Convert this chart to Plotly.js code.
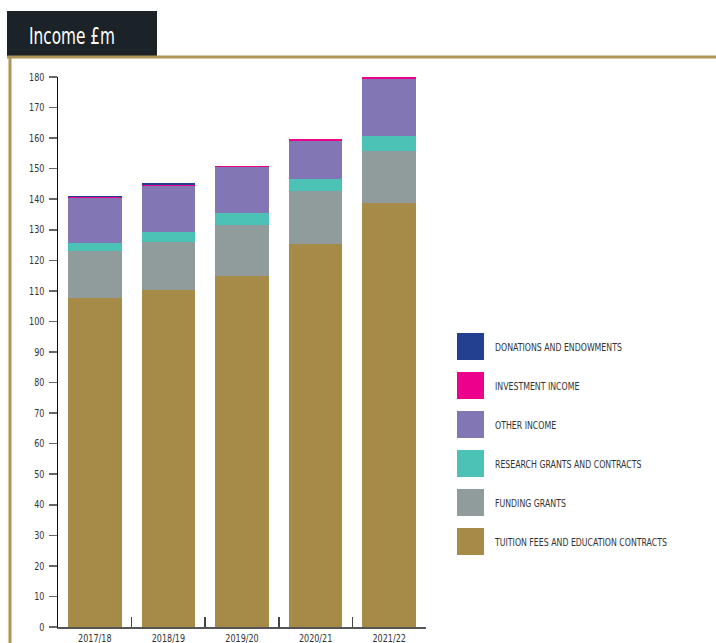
<!DOCTYPE html>
<html>
<head>
<meta charset="utf-8">
<script src="https://cdn.plot.ly/plotly-3.0.1.min.js"></script>
<style>html,body{margin:0;padding:0;background:#fff;}#chart{width:716px;height:643px;}</style>
</head>
<body>
<div id="chart"></div>
<script>
const years = ["2017/18", "2018/19", "2019/20", "2020/21", "2021/22"];
const tuition = [107.8, 110.3, 114.9, 125.4, 138.7];
const funding = [15.2, 15.7, 16.6, 17.2, 17.0];
const research = [2.6, 3.2, 3.9, 3.9, 4.9];
const other = [14.9, 15.2, 15.1, 12.5, 18.7];
const investment = [0.3, 0.3, 0.5, 0.6, 0.6];
const donations = [0.4, 0.5, 0, 0, 0];

const seriesNames = ["TUITION FEES AND EDUCATION CONTRACTS", "FUNDING GRANTS", "RESEARCH GRANTS AND CONTRACTS", "OTHER INCOME", "INVESTMENT INCOME", "DONATIONS AND ENDOWMENTS"];
const seriesValues = [tuition, funding, research, other, investment, donations];
const seriesColors = ["#a58a48", "#8f9c9b", "#4cc1b5", "#8376b5", "#ec008c", "#233f8f"];
const yTicks = [0,10,20,30,40,50,60,70,80,90,100,110,120,130,140,150,160,170,180];

const condensed = "'Liberation Sans Narrow', 'DejaVu Sans Condensed', 'Roboto Condensed', Arial, sans-serif";

const traces = seriesNames.map((n, i) => ({
  type: "bar", x: years, y: seriesValues[i], name: n,
  marker: {color: seriesColors[i], line: {width: 0}},
  showlegend: false, hoverinfo: "x+y+name"
}));

// Plot area geometry in pixels (for converting frame decorations to paper coords)
const L = 58, R = 290, T = 77, B = 16, W = 716, H = 643;
const pw = W - L - R, ph = H - T - B;
const px = v => (v - L) / pw;
const py = v => (H - B - v) / ph;

const shapes = [
  {type: "rect", xref: "paper", yref: "paper", x0: px(7), x1: px(157), y0: py(57), y1: py(11), fillcolor: "#1b2328", line: {width: 0}, layer: "below"},
  {type: "line", xref: "paper", yref: "paper", x0: px(7), x1: px(720), y0: py(57), y1: py(57), line: {color: "#ad9558", width: 3}},
  {type: "line", xref: "paper", yref: "paper", x0: px(10), x1: px(10), y0: py(56), y1: py(650), line: {color: "#ad9558", width: 3}}
];
const annotations = [];
// custom legend (top to bottom = reversed trace order)
const legTop = 333, legStep = 39, sw = 27;
for (let k = 0; k < seriesNames.length; k++) {
  const i = seriesNames.length - 1 - k;
  const yTop = legTop + k * legStep;
  shapes.push({type: "rect", xref: "paper", yref: "paper", x0: px(457), x1: px(457 + sw), y0: py(yTop + sw), y1: py(yTop), fillcolor: seriesColors[i], line: {width: 0}});
  annotations.push({xref: "paper", yref: "paper", x: px(493), y: py(yTop + sw / 2 + 1), xanchor: "left", yanchor: "middle", align: "left", text: seriesNames[i], showarrow: false, font: {family: condensed, size: 11, color: "#333"}});
}

const layout = {
  width: W, height: H,
  margin: {l: L, r: R, t: T, b: B, pad: 0},
  paper_bgcolor: "#fff", plot_bgcolor: "#fff",
  barmode: "stack", bargap: 0.27,
  title: {text: "Income £m", x: 29 / W, xanchor: "left", xref: "container", y: 1 - 36 / H, yanchor: "middle", yref: "container", font: {family: condensed, size: 23, color: "#ffffff"}},
  xaxis: {type: "category", showgrid: false, zeroline: false, showline: true, linecolor: "#555", linewidth: 2,
    ticks: "inside", tickson: "boundaries", ticklen: 10, tickcolor: "#444", tickwidth: 1.5,
    tickfont: {family: condensed, size: 10.5, color: "#333"}, ticklabelstandoff: 0, fixedrange: true},
  yaxis: {range: [0, 180], tickvals: yTicks, ticktext: yTicks.map(String), showgrid: false, zeroline: false, showline: true,
    linecolor: "#111", linewidth: 1.5, ticks: "outside", ticklen: 8, tickcolor: "#666", tickwidth: 1.5,
    tickfont: {family: condensed, size: 10.5, color: "#333"}, ticklabelstandoff: 2, fixedrange: true},
  shapes: shapes, annotations: annotations, showlegend: false
};

// horizontally condense text to mimic the narrow display font of the original
function condense(el, factor) {
  const len = el.getComputedTextLength();
  if (len > 0) {
    el.setAttribute("textLength", (len * factor).toFixed(1));
    el.setAttribute("lengthAdjust", "spacingAndGlyphs");
  }
}

Plotly.newPlot("chart", traces, layout, {displayModeBar: false, staticPlot: true}).then(gd => {
  gd.querySelectorAll(".gtitle").forEach(el => condense(el, 0.74));
  gd.querySelectorAll(".annotation-text").forEach(el => {
    // anchor at the left edge so condensing keeps the text start in place
    const bb = el.getBBox();
    el.setAttribute("text-anchor", "start");
    el.style.textAnchor = "start";
    el.setAttribute("x", bb.x.toFixed(1));
    condense(el, 0.79);
  });
  gd.querySelectorAll(".xtick text").forEach(el => condense(el, 0.85));
  gd.querySelectorAll(".ytick text").forEach(el => condense(el, 0.85));
});
</script>
</body>
</html>
